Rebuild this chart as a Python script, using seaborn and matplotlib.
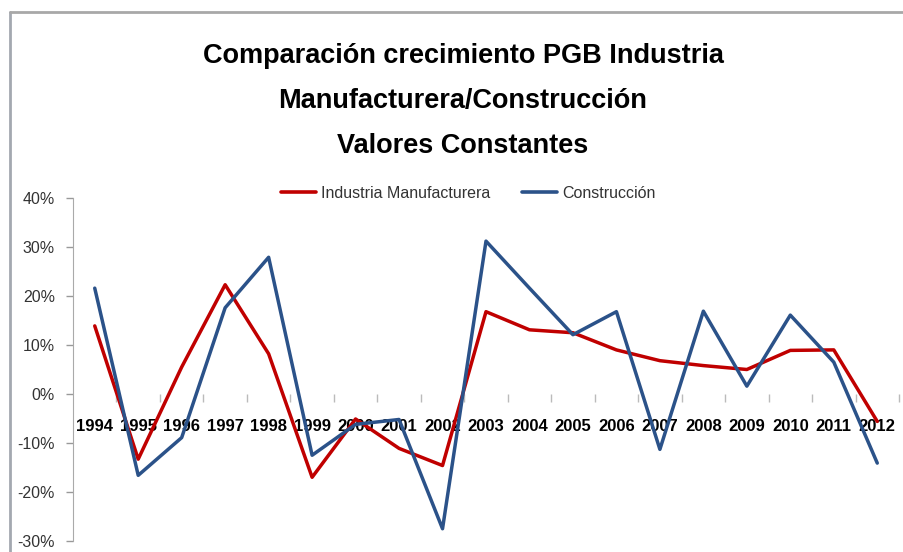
import numpy as np
import pandas as pd
import matplotlib.pyplot as plt
import matplotlib.ticker as mticker
from matplotlib.lines import Line2D
import seaborn as sns

years = ['1994', '1995', '1996', '1997', '1998', '1999', '2000', '2001', '2002', '2003',
         '2004', '2005', '2006', '2007', '2008', '2009', '2010', '2011', '2012']
industria = [13.9, -13.3, 5.5, 22.3, 8.2, -17.0, -5.1, -11.1, -14.6, 16.8,
             13.1, 12.5, 9.0, 6.8, 5.8, 5.0, 8.9, 9.0, -5.6]
construccion = [21.6, -16.6, -8.9, 17.6, 27.9, -12.5, -6.2, -5.2, -27.5, 31.2,
                21.6, 12.1, 16.8, -11.3, 16.9, 1.6, 16.1, 6.5, -14.1]
series_names = ['Industria Manufacturera', 'Construcción']
colores = {'Industria Manufacturera': '#C00000', 'Construcción': '#2B5289'}

df = pd.DataFrame({
    'pos': list(range(len(years))) * 2,
    'valor': np.array(industria + construccion) / 100,
    'serie': [series_names[0]] * len(years) + [series_names[1]] * len(years),
})

sns.set_style('white')
plt.rcParams['font.family'] = ['Liberation Sans', 'DejaVu Sans']

fig = plt.figure(figsize=(9.04, 5.52), dpi=100)
ax = fig.add_axes([73 / 904, 11 / 552, (899 - 73) / 904, (541 - 198) / 552])

sns.lineplot(data=df, x='pos', y='valor', hue='serie', palette=colores,
             linewidth=2.5, legend=False, ax=ax)

ax.set_xlim(-0.5, len(years) - 0.5)
ax.set_ylim(-0.30, 0.40)
ax.set_xlabel('')
ax.set_ylabel('')

# eje y
ax.yaxis.set_major_locator(mticker.MultipleLocator(0.10))
ax.yaxis.set_major_formatter(mticker.FuncFormatter(lambda v, p: f'{v*100:.0f}%'))
ax.tick_params(axis='y', direction='out', length=5, width=1, color='#999999',
               labelsize=11.5, labelcolor='#333333', pad=8, left=True)

# eje x en 0, marcas entre categorias
for s in ['top', 'right']:
    ax.spines[s].set_visible(False)
ax.spines['left'].set_color('#AAAAAA')
ax.spines['bottom'].set_position(('data', 0))
ax.spines['bottom'].set_color('none')
ax.set_xticks(range(len(years)))
ax.set_xticklabels(years, fontweight='bold', fontsize=12, color='black')
ax.set_xticks(np.arange(0.5, len(years)), minor=True)
ax.tick_params(axis='x', which='major', length=0, pad=18, bottom=True)
ax.tick_params(axis='x', which='minor', direction='out', length=6, width=1,
               color='#BBBBBB', bottom=True)

# titulo
titulo = ['Comparación crecimiento PGB Industria',
          'Manufacturera/Construcción',
          'Valores Constantes']
for i, linea in enumerate(titulo):
    fig.text(463 / 904, 1 - (56 + 45 * i) / 552, linea, ha='center', va='center',
             fontsize=19.5, fontweight='bold', color='black')

# leyenda
handles = [Line2D([], [], color=colores[n], linewidth=2.6) for n in series_names]
fig.legend(handles, series_names, loc='center', bbox_to_anchor=(468 / 904, 1 - 193 / 552),
           ncol=2, frameon=False, fontsize=11.5, handlelength=2.2, handletextpad=0.3,
           columnspacing=2.0, labelcolor='#333333')

# borde del grafico
fig.add_artist(Line2D([10 / 904, 10 / 904], [0, 1 - 12 / 552], color='#A3A8B0',
                      linewidth=2, transform=fig.transFigure))
fig.add_artist(Line2D([10 / 904, 1], [1 - 12 / 552, 1 - 12 / 552], color='#A8A8A8',
                      linewidth=2, transform=fig.transFigure))

fig.savefig('out.png', dpi=100)
